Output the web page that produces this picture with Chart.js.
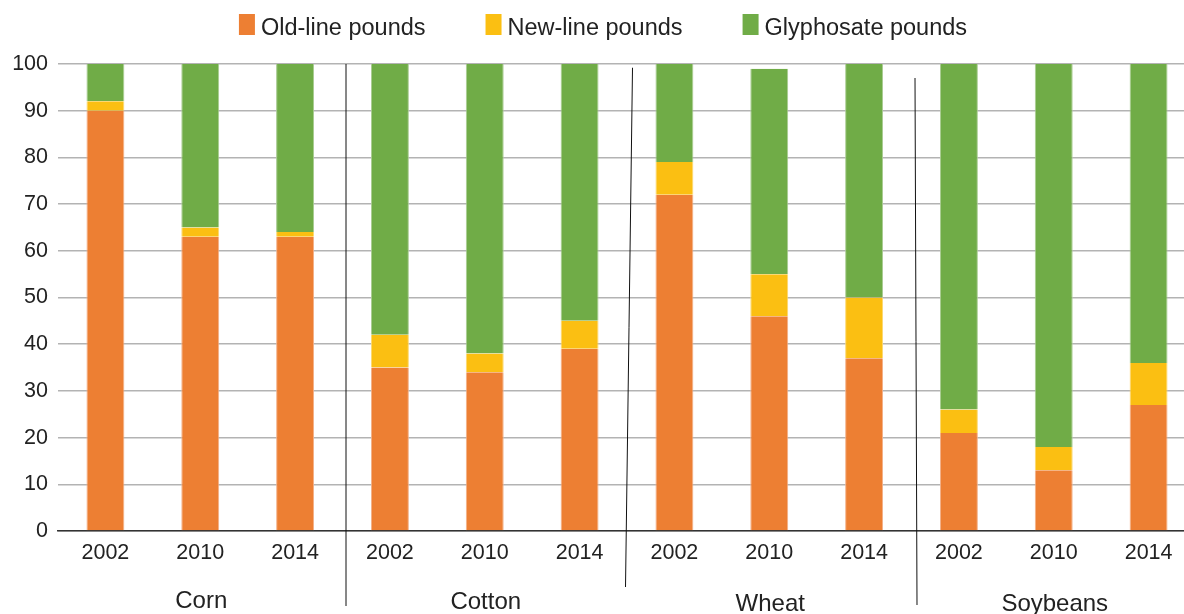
<!DOCTYPE html>
<html>
<head>
<meta charset="utf-8">
<script src="https://cdn.jsdelivr.net/npm/chart.js@4.4.1/dist/chart.umd.min.js"></script>
<style>
html,body{margin:0;padding:0;background:#fff;overflow:hidden;}
#wrap{width:1200px;height:614px;}
</style>
</head>
<body>
<div id="wrap"><canvas id="c" width="1200" height="614"></canvas></div>
<script>
const years = ['2002','2010','2014','2002','2010','2014','2002','2010','2014','2002','2010','2014'];
const groups = ['Corn','Cotton','Wheat','Soybeans'];
const oldLine    = [90, 63, 63, 35, 34, 39, 72, 46, 37, 21, 13, 27];
const newLine    = [ 2,  2,  1,  7,  4,  6,  7,  9, 13,  5,  5,  9];
const glyphosate = [ 8, 35, 36, 58, 62, 55, 21, 44, 50, 74, 82, 64];
const yTicks = [0,10,20,30,40,50,60,70,80,90,100];

const FONT = '"Liberation Sans", Arial, Helvetica, sans-serif';
const colors = {old:'#ED7F33', neu:'#FBBF12', gly:'#70AC47'};
const borders = {old:'#F3B088', neu:'#FCD870', gly:'#A9CC92'};

const legendPlugin = {
  id:'customLegend',
  afterDraw(chart){
    const ctx = chart.ctx;
    const items = chart.data.datasets.map(d=>({text:d.label, color:d.backgroundColor}));
    ctx.save();
    ctx.font = '23.5px ' + FONT;
    const boxW = 16, boxH = 21, gapText = 6, gapItem = 60;
    let total = 0;
    const widths = items.map(it=>ctx.measureText(it.text).width);
    items.forEach((it,i)=>{ total += boxW + gapText + widths[i] + (i<items.length-1?gapItem:0); });
    let x = (chart.width - total)/2 + 3;
    const base = 35;
    items.forEach((it,i)=>{
      ctx.fillStyle = it.color;
      ctx.fillRect(x, base - boxH, boxW, boxH);
      ctx.fillStyle = '#222';
      ctx.textBaseline = 'alphabetic';
      ctx.textAlign = 'left';
      ctx.fillText(it.text, x + boxW + gapText, base);
      x += boxW + gapText + widths[i] + gapItem;
    });
    ctx.restore();
  }
};

const groupPlugin = {
  id:'groupLabels',
  afterDraw(chart){
    const xs = chart.scales.x, ctx = chart.ctx;
    ctx.save();
    ctx.font = '24px ' + FONT;
    ctx.fillStyle = '#222';
    ctx.textAlign = 'center';
    ctx.textBaseline = 'middle';
    const dy = [0, 1, 3, 3];
    groups.forEach((g,i)=>{
      const x = xs.getPixelForValue(i*3+1);
      ctx.fillText(g, x + 1, xs.top + 70 + dy[i]);
    });
    ctx.restore();
  }
};

const sepPlugin = {
  id:'separators',
  afterDraw(chart){
    const xs = chart.scales.x, ys = chart.scales.y, ctx = chart.ctx;
    const seps = [
      {v:2.5, dxTop:3.5, dxBot:3.5, top:ys.getPixelForValue(100), bot:606},
      {v:5.5, dxTop:5.5, dxBot:-1.5, top:ys.getPixelForValue(99.2), bot:587},
      {v:8.5, dxTop:3.5, dxBot:5.5, top:ys.getPixelForValue(97), bot:605}
    ];
    ctx.save();
    ctx.strokeStyle = '#111';
    ctx.lineWidth = 1;
    seps.forEach(s=>{
      const x = xs.getPixelForValue(s.v);
      ctx.beginPath();
      ctx.moveTo(x + s.dxTop, s.top);
      ctx.lineTo(x + s.dxBot, s.bot);
      ctx.stroke();
    });
    ctx.restore();
  }
};

const bw = {left:1, right:1, top:0, bottom:0};
new Chart(document.getElementById('c'), {
  type:'bar',
  data:{
    labels: years,
    datasets:[
      {label:'Old-line pounds', data:oldLine, backgroundColor:colors.old, borderColor:borders.old, borderWidth:bw, borderSkipped:false},
      {label:'New-line pounds', data:newLine, backgroundColor:colors.neu, borderColor:borders.neu, borderWidth:bw, borderSkipped:false},
      {label:'Glyphosate pounds', data:glyphosate, backgroundColor:colors.gly, borderColor:borders.gly, borderWidth:bw, borderSkipped:false}
    ]
  },
  options:{
    responsive:false,
    animation:false,
    devicePixelRatio:1,
    layout:{padding:{top:64, right:4, left:0, bottom:0}},
    plugins:{legend:{display:false}, tooltip:{enabled:false}},
    datasets:{bar:{barPercentage:0.8, categoryPercentage:0.5}},
    scales:{
      x:{
        stacked:true,
        afterFit(scale){ scale.height = 83; },
        grid:{display:false, drawTicks:false},
        border:{display:true, color:'#333', width:1.5},
        ticks:{
          color:'#222',
          font:{family:FONT, size:21.5, lineHeight:1.2},
          padding:9,
          maxRotation:0,
          autoSkip:false
        }
      },
      y:{
        stacked:true,
        min:0, max:100,
        afterBuildTicks(scale){ scale.ticks = yTicks.map(v=>({value:v})); },
        afterFit(scale){ scale.width = 58; },
        grid:{color:'#b3b3b3', lineWidth:1.5, drawTicks:false},
        border:{display:false},
        ticks:{color:'#222', font:{family:FONT, size:21.5}, padding:10}
      }
    }
  },
  plugins:[legendPlugin, groupPlugin, sepPlugin]
});
</script>
</body>
</html>
